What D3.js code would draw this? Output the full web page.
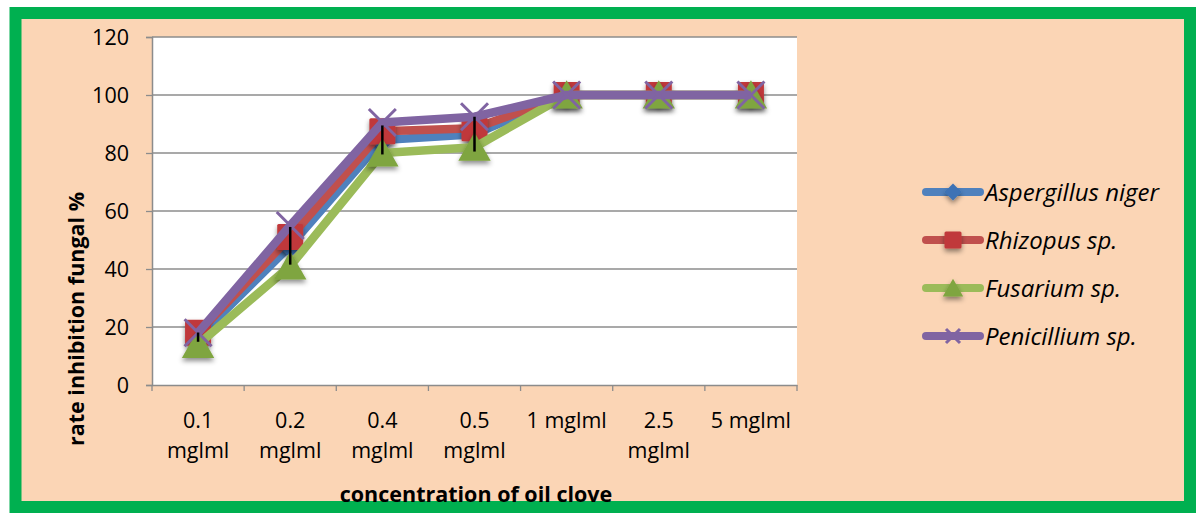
<!DOCTYPE html>
<html><head><meta charset="utf-8">
<script src="https://cdn.jsdelivr.net/npm/d3@7"></script>
<style>body{margin:0;background:#fff}svg{display:block}text{font-family:"Open Sans",Lato,sans-serif}</style>
</head><body><svg id="c" width="1200" height="517"></svg>
<script>
const categories = ["0.1 mglml","0.2 mglml","0.4 mglml","0.5 mglml","1 mglml","2.5 mglml","5 mglml"];
const tickLines = [["0.1","mglml"],["0.2","mglml"],["0.4","mglml"],["0.5","mglml"],["1 mglml"],["2.5","mglml"],["5 mglml"]];
const seriesNames = ["Aspergillus niger","Rhizopus sp.","Fusarium sp.","Penicillium sp."];
const aspergillus = [16.5, 48, 84.5, 86.5, 100, 100, 100];
const rhizopus = [18, 51, 87.5, 88.5, 100, 100, 100];
const fusarium = [14, 41, 80, 82, 100, 100, 100];
const penicillium = [18, 55, 90.5, 92.5, 100, 100, 100];
const errAspergillus = [1.6, 6.5, 5, 6, 0, 0, 0];
const yTicks = [0,20,40,60,80,100,120];
const colors = ["#4F81BD","#C0504D","#9BBB59","#8064A2"];
const markers = ["diamond","square","triangle","x"];
const values = [aspergillus, rhizopus, fusarium, penicillium];

const svg = d3.select("#c");
svg.append("rect").attr("x",15.5).attr("y",13).attr("width",1174.5).attr("height",494).attr("fill","#FBD5B5").attr("stroke","#00B050").attr("stroke-width",12);

const L=152,R=797,T=37,B=385;
const x = d3.scaleBand().domain(categories).range([L,R]);
const y = d3.scaleLinear().domain([0,120]).range([B,T]);
svg.append("rect").attr("x",L).attr("y",T).attr("width",R-L).attr("height",B-T).attr("fill","#fff");

svg.append("g").selectAll("line").data(yTicks.filter(d=>d>0)).join("line")
  .attr("x1",L).attr("x2",R).attr("y1",d=>y(d)).attr("y2",d=>y(d)).attr("stroke","#8c8c8c").attr("stroke-width",1.3);
const ya = svg.append("g").attr("transform",`translate(${L},0)`).call(d3.axisLeft(y).tickValues(yTicks).tickSize(6).tickPadding(17));
ya.select(".domain").attr("stroke","#8c8c8c").attr("stroke-width",1.5);
ya.selectAll(".tick line").attr("stroke","#8c8c8c").attr("stroke-width",1.3);
ya.selectAll(".tick text").attr("font-size",21.5).attr("fill","#000").attr("dy","0.36em");
const xa = svg.append("g").attr("transform",`translate(0,${B})`).call(d3.axisBottom(x).tickSize(0).tickFormat(""));
xa.select(".domain").attr("stroke","#8c8c8c").attr("stroke-width",1.5);
svg.append("g").selectAll("line").data(d3.range(categories.length+1)).join("line")
  .attr("x1",i=>L+i*x.step()).attr("x2",i=>L+i*x.step()).attr("y1",B).attr("y2",B+6).attr("stroke","#8c8c8c").attr("stroke-width",1.3);
const xl = svg.append("g").selectAll("text").data(categories).join("text")
  .attr("x",d=>x(d)+x.bandwidth()/2).attr("y",428).attr("text-anchor","middle").attr("font-size",21.5).attr("fill","#000");
xl.each(function(d,i){ d3.select(this).selectAll("tspan").data(tickLines[i]).join("tspan").attr("x",x(d)+x.bandwidth()/2).attr("dy",(t,j)=>j?29.5:0).text(t=>t); });

svg.append("text").attr("transform","translate(84,319) rotate(-90)").attr("text-anchor","middle").attr("font-size",21.5).attr("font-weight","bold").text("rate inhibition fungal %");
svg.append("text").attr("x",476).attr("y",502).attr("text-anchor","middle").attr("font-size",21.5).attr("font-weight","bold").text("concentration of oil clove");

const defs = svg.append("defs");
const sh = defs.append("filter").attr("id","sh").attr("x","-50%").attr("y","-50%").attr("width","200%").attr("height","200%");
sh.append("feDropShadow").attr("dx",0).attr("dy",3).attr("stdDeviation",2.5).attr("flood-color","#000").attr("flood-opacity",0.45);

function drawMarker(g, type, color, cx, cy, s){
  if(type==="diamond") g.append("path").attr("d",`M${cx},${cy-s*0.6}L${cx+s*0.6},${cy}L${cx},${cy+s*0.6}L${cx-s*0.6},${cy}Z`).attr("fill",color).attr("filter","url(#sh)");
  else if(type==="square") g.append("rect").attr("x",cx-s/2).attr("y",cy-s/2).attr("width",s).attr("height",s).attr("rx",1.5).attr("fill",color).attr("filter","url(#sh)");
  else if(type==="triangle") g.append("path").attr("d",`M${cx},${cy-s*0.55}L${cx+s*0.6},${cy+s*0.5}L${cx-s*0.6},${cy+s*0.5}Z`).attr("fill",color).attr("filter","url(#sh)");
  else g.append("path").attr("d",`M${cx-s/2},${cy-s/2}L${cx+s/2},${cy+s/2}M${cx+s/2},${cy-s/2}L${cx-s/2},${cy+s/2}`).attr("stroke",color).attr("stroke-width",3);
}
const markerColors = ["#3C72B5","#C0393A","#7FA53F","#8064A2"];
const line = d3.line().x((d,i)=>x(categories[i])+x.bandwidth()/2).y(d=>y(d));
values.forEach((vals,si)=>{
  const g = svg.append("g");
  g.append("path").datum(vals).attr("d",line).attr("fill","none").attr("stroke",colors[si]).attr("stroke-width",8.5).attr("stroke-linejoin","round");
  vals.forEach((v,i)=>drawMarker(g, markers[si], markerColors[si], x(categories[i])+x.bandwidth()/2, y(v), si===1?26:si===2?27:si===3?27:20));
});
svg.append("g").selectAll("line").data(aspergillus).join("line")
  .filter((d,i)=>errAspergillus[i]>0)
  .attr("x1",(d,i)=>x(categories[i])+x.bandwidth()/2).attr("x2",(d,i)=>x(categories[i])+x.bandwidth()/2)
  .attr("y1",(d,i)=>y(d+errAspergillus[i])).attr("y2",(d,i)=>y(d-errAspergillus[i])).attr("stroke","#000").attr("stroke-width",2.5);

const lg = svg.append("g").selectAll("g").data(seriesNames).join("g").attr("transform",(d,i)=>`translate(0,${192+i*48})`);
lg.append("line").attr("x1",926).attr("x2",980).attr("y1",0).attr("y2",0).attr("stroke",(d,i)=>colors[i]).attr("stroke-width",8).attr("stroke-linecap","round");
lg.each(function(d,i){ drawMarker(d3.select(this), markers[i], markerColors[i], 953, 0, i===0?14:i===3?14:17); });
lg.append("text").attr("x",985).attr("y",0).attr("dy","0.36em").attr("font-size",24).attr("font-style","italic").text(d=>d);
</script></body></html>
